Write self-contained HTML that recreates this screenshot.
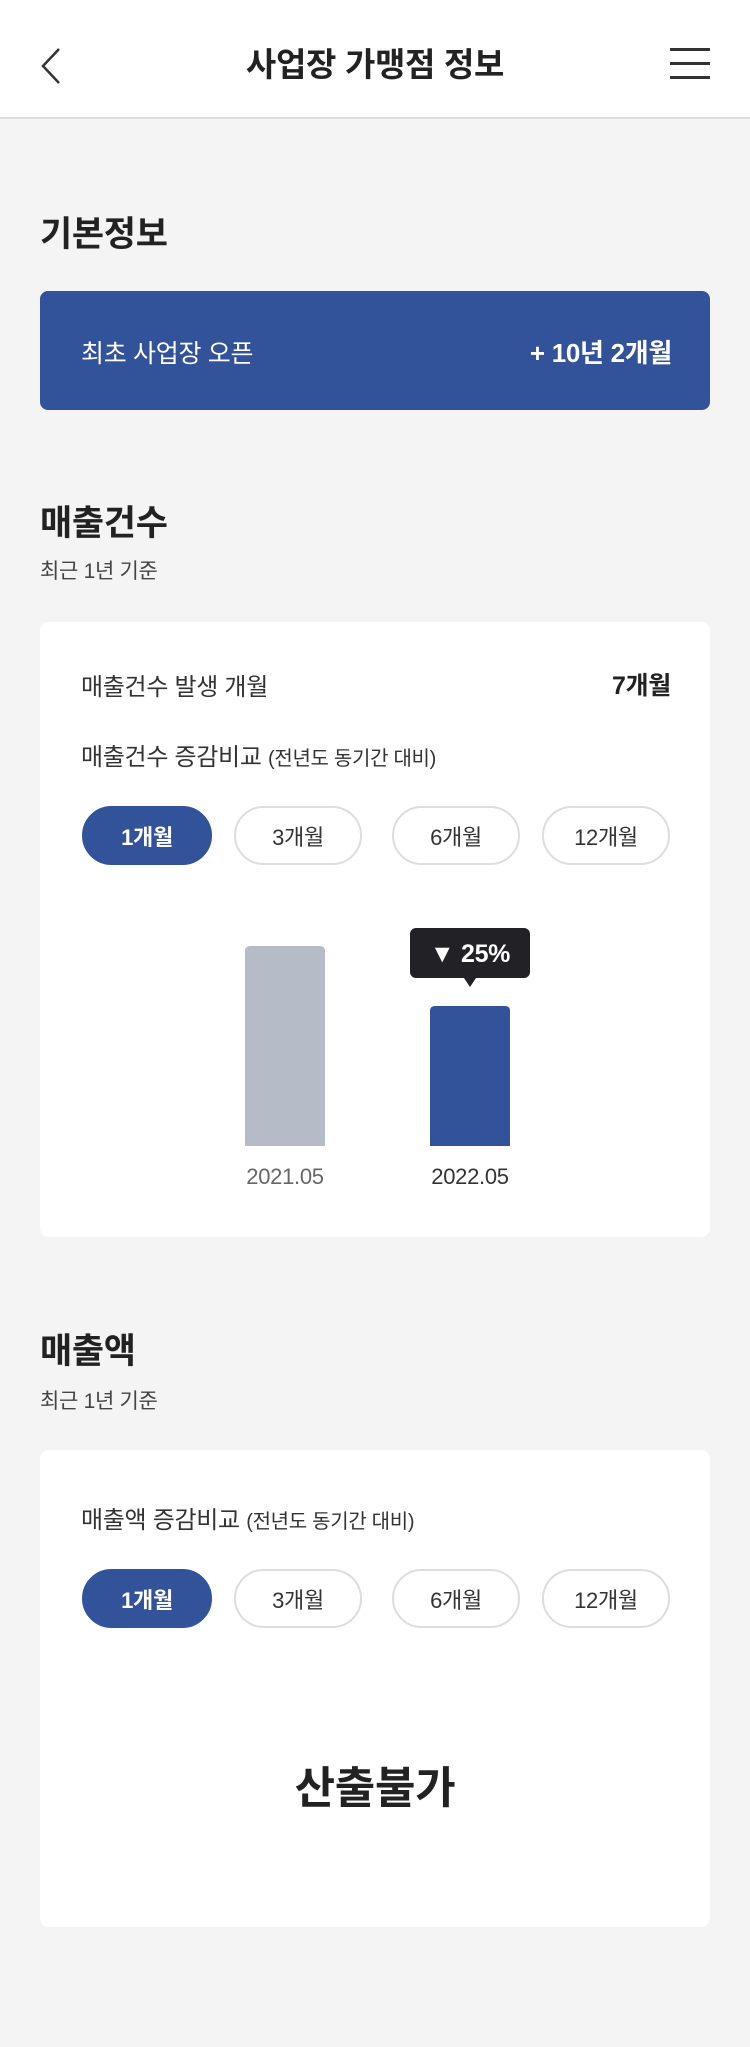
<!DOCTYPE html>
<html lang="ko"><head><meta charset="utf-8">
<style>
*{margin:0;padding:0;box-sizing:border-box}
body{width:750px;height:2047px;background:#f4f4f4;font-family:"Liberation Sans","Noto Sans CJK KR",sans-serif;color:#222;position:relative;overflow:hidden;letter-spacing:-0.3px}
.a{position:absolute;white-space:nowrap}
.card{position:absolute;left:40px;width:670px;background:#fff;border-radius:9px}
.btn{position:absolute;height:59px;border:2px solid #ddd;border-radius:30px;background:#fff;font-size:22px;display:flex;align-items:center;justify-content:center;color:#333}
.btn.on{background:#32529a;border-color:#32529a;color:#fff;font-weight:bold}
</style></head><body>
<div class="a" style="left:0;top:0;width:750px;height:119px;background:#fff;border-bottom:2px solid #ddd"></div>
<svg class="a" style="left:38px;top:46px" width="28" height="40" viewBox="0 0 28 40"><polyline points="21,3 5,20 21,37" fill="none" stroke="#333" stroke-width="2.5"/></svg>
<div class="a" style="left:0;width:750px;top:38px;text-align:center;font-size:33px;font-weight:bold">사업장 가맹점 정보</div>
<div class="a" style="left:670px;top:48px;width:40px;height:32px">
<div style="position:absolute;top:0;width:40px;height:3px;background:#333"></div>
<div style="position:absolute;top:14px;width:40px;height:3px;background:#333"></div>
<div style="position:absolute;top:28px;width:40px;height:3px;background:#333"></div></div>

<div class="a" style="left:40px;top:206px;font-size:35px;font-weight:bold">기본정보</div>
<div class="a" style="left:40px;top:291px;width:670px;height:119px;background:#32529a;border-radius:8px"></div>
<div class="a" style="left:81px;top:334px;font-size:25px;color:#fff">최초 사업장 오픈</div>
<div class="a" style="right:78px;top:333px;font-size:26px;font-weight:bold;color:#fff">+ 10년 2개월</div>

<div class="a" style="left:40px;top:495px;font-size:35px;font-weight:bold">매출건수</div>
<div class="a" style="left:40px;top:555px;font-size:21px;color:#444">최근 1년 기준</div>
<div class="card" style="top:622px;height:615px"></div>
<div class="a" style="left:81px;top:667px;font-size:24px;color:#333">매출건수 발생 개월</div>
<div class="a" style="right:79px;top:666px;font-size:25px;font-weight:bold">7개월</div>
<div class="a" style="left:81px;top:737px;font-size:24px;color:#333">매출건수 증감비교 <span style="font-size:20px">(전년도 동기간 대비)</span></div>
<div class="btn on a" style="left:82px;top:806px;width:130px">1개월</div>
<div class="btn a" style="left:234px;top:806px;width:128px">3개월</div>
<div class="btn a" style="left:392px;top:806px;width:128px">6개월</div>
<div class="btn a" style="left:542px;top:806px;width:128px">12개월</div>
<svg class="a" id="chart" style="left:0;top:900px" width="750" height="300"></svg>

<div class="a" style="left:40px;top:1323px;font-size:35px;font-weight:bold">매출액</div>
<div class="a" style="left:40px;top:1385px;font-size:21px;color:#444">최근 1년 기준</div>
<div class="card" style="top:1450px;height:477px"></div>
<div class="a" style="left:81px;top:1500px;font-size:24px;color:#333">매출액 증감비교 <span style="font-size:20px">(전년도 동기간 대비)</span></div>
<div class="btn on a" style="left:82px;top:1569px;width:130px">1개월</div>
<div class="btn a" style="left:234px;top:1569px;width:128px">3개월</div>
<div class="btn a" style="left:392px;top:1569px;width:128px">6개월</div>
<div class="btn a" style="left:542px;top:1569px;width:128px">12개월</div>
<div class="a" style="left:0;width:750px;top:1752px;text-align:center;font-size:44px;font-weight:bold">산출불가</div>

<script>
const categories = ["2021.05", "2022.05"];
const values = [100, 70];
const changeLabel = "▼ 25%";
const NS = "http://www.w3.org/2000/svg";
const svg = document.getElementById("chart");
const baseY = 246, maxH = 200, maxV = 100;
const yScale = v => v / maxV * maxH;
const xCenter = i => 285 + i * 185;
const barW = 80;
function mk(t, attrs){const e=document.createElementNS(NS,t);for(const k in attrs)e.setAttribute(k,attrs[k]);svg.appendChild(e);return e;}
values.forEach((v,i)=>{
  const h = yScale(v), x = xCenter(i)-barW/2, y = baseY-h;
  const p = mk("path",{d:`M${x},${baseY}V${y+5}Q${x},${y} ${x+5},${y}H${x+barW-5}Q${x+barW},${y} ${x+barW},${y+5}V${baseY}Z`,fill:i===values.length-1?"#32529a":"#b6bcc7"});
  
  
  const t = mk("text",{x:xCenter(i),y:baseY+38,"text-anchor":"middle","font-size":"22",fill:i===values.length-1?"#333":"#666","font-family":"Liberation Sans, sans-serif"});
  t.textContent = categories[i];
  
  
});
const li = values.length-1, ty = baseY - yScale(values[li]) - 28;
const tip = mk("path",{d:`M${xCenter(li)-54},${ty-50}h108a6,6 0 0 1 6,6v38a6,6 0 0 1 -6,6h-48l-6,9l-6,-9h-48a6,6 0 0 1 -6,-6v-38a6,6 0 0 1 6,-6z`,fill:"#222226"});


const tt = mk("text",{x:xCenter(li),y:ty-16,"text-anchor":"middle","font-size":"25","font-weight":"bold",fill:"#fff","font-family":"Liberation Sans, sans-serif"});
tt.textContent = changeLabel;


</script>
</body></html>
